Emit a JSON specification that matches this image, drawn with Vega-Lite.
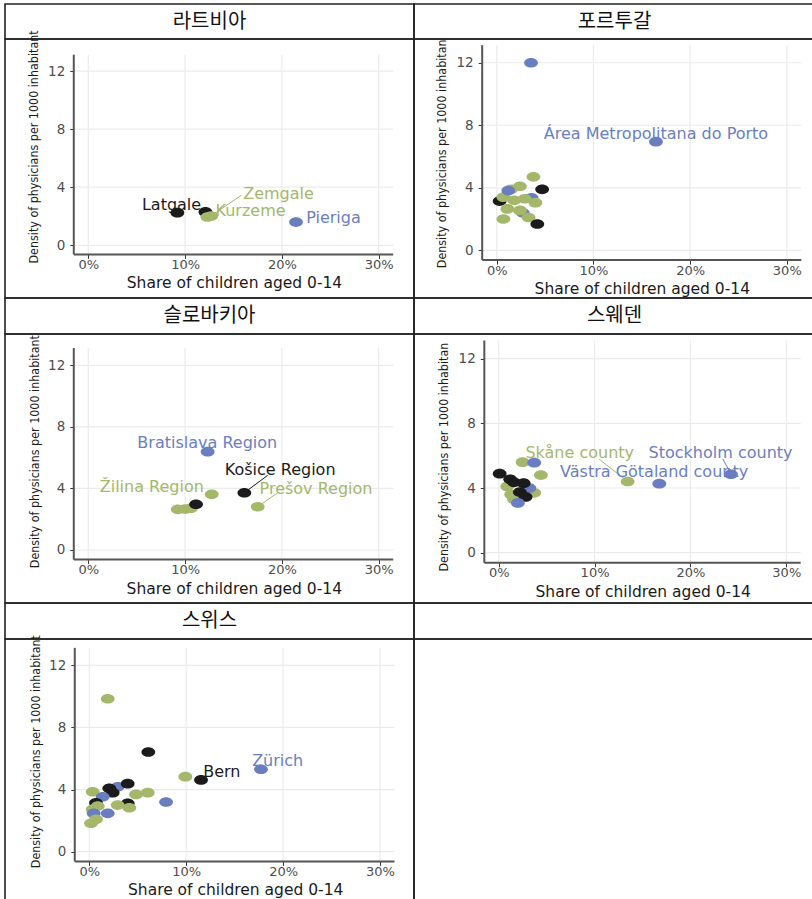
{
  "$schema": "https://vega.github.io/schema/vega-lite/v6.json",
  "padding": {"left": 4, "top": 3, "right": 0, "bottom": 0},
  "background": "white",
  "config": {
    "view": {"stroke": "#222222", "strokeWidth": 1.6},
    "concat": {"spacing": 0}
  },
  "datasets": {
    "points": [
      {"country": "라트비아", "region": "Latgale", "group": "C", "share": 0.092, "density": 2.25},
      {"country": "라트비아", "region": "", "group": "C", "share": 0.121, "density": 2.3},
      {"country": "라트비아", "region": "Kurzeme", "group": "B", "share": 0.123, "density": 1.95},
      {"country": "라트비아", "region": "Zemgale", "group": "B", "share": 0.127, "density": 2.02},
      {"country": "라트비아", "region": "Pieriga", "group": "A", "share": 0.2146, "density": 1.6},

      {"country": "포르투갈", "region": "", "group": "C", "share": 0.003, "density": 3.15},
      {"country": "포르투갈", "region": "", "group": "A", "share": 0.027, "density": 2.4},
      {"country": "포르투갈", "region": "", "group": "A", "share": 0.036, "density": 3.35},
      {"country": "포르투갈", "region": "", "group": "B", "share": 0.038, "density": 4.7},
      {"country": "포르투갈", "region": "", "group": "B", "share": 0.024, "density": 4.1},
      {"country": "포르투갈", "region": "", "group": "B", "share": 0.015, "density": 3.9},
      {"country": "포르투갈", "region": "", "group": "B", "share": 0.007, "density": 3.4},
      {"country": "포르투갈", "region": "", "group": "B", "share": 0.04, "density": 3.05},
      {"country": "포르투갈", "region": "", "group": "B", "share": 0.011, "density": 2.65},
      {"country": "포르투갈", "region": "", "group": "B", "share": 0.024, "density": 2.55},
      {"country": "포르투갈", "region": "", "group": "B", "share": 0.007, "density": 2.0},
      {"country": "포르투갈", "region": "", "group": "B", "share": 0.033, "density": 2.1},
      {"country": "포르투갈", "region": "", "group": "B", "share": 0.018, "density": 3.2},
      {"country": "포르투갈", "region": "", "group": "B", "share": 0.029, "density": 3.3},
      {"country": "포르투갈", "region": "", "group": "A", "share": 0.012, "density": 3.82},
      {"country": "포르투갈", "region": "", "group": "C", "share": 0.047, "density": 3.9},
      {"country": "포르투갈", "region": "", "group": "C", "share": 0.042, "density": 1.68},
      {"country": "포르투갈", "region": "", "group": "A", "share": 0.0355, "density": 12.0},
      {"country": "포르투갈", "region": "Área Metropolitana do Porto", "group": "A", "share": 0.1647, "density": 6.95},

      {"country": "슬로바키아", "region": "Bratislava Region", "group": "A", "share": 0.1233, "density": 6.39},
      {"country": "슬로바키아", "region": "", "group": "B", "share": 0.0924, "density": 2.64},
      {"country": "슬로바키아", "region": "", "group": "B", "share": 0.1, "density": 2.66},
      {"country": "슬로바키아", "region": "", "group": "B", "share": 0.106, "density": 2.71},
      {"country": "슬로바키아", "region": "", "group": "C", "share": 0.1113, "density": 2.97},
      {"country": "슬로바키아", "region": "Žilina Region", "group": "B", "share": 0.1275, "density": 3.62},
      {"country": "슬로바키아", "region": "Košice Region", "group": "C", "share": 0.1612, "density": 3.72},
      {"country": "슬로바키아", "region": "Prešov Region", "group": "B", "share": 0.175, "density": 2.81},

      {"country": "스웨덴", "region": "", "group": "B", "share": 0.009, "density": 4.1},
      {"country": "스웨덴", "region": "", "group": "B", "share": 0.016, "density": 3.3},
      {"country": "스웨덴", "region": "", "group": "B", "share": 0.013, "density": 3.6},
      {"country": "스웨덴", "region": "", "group": "B", "share": 0.037, "density": 3.7},
      {"country": "스웨덴", "region": "", "group": "B", "share": 0.03, "density": 3.85},
      {"country": "스웨덴", "region": "", "group": "B", "share": 0.025, "density": 5.6},
      {"country": "스웨덴", "region": "", "group": "B", "share": 0.044, "density": 4.8},
      {"country": "스웨덴", "region": "Skåne county", "group": "B", "share": 0.1345, "density": 4.4},
      {"country": "스웨덴", "region": "", "group": "A", "share": 0.037, "density": 5.57},
      {"country": "스웨덴", "region": "", "group": "A", "share": 0.032, "density": 4.0},
      {"country": "스웨덴", "region": "", "group": "C", "share": 0.001, "density": 4.89},
      {"country": "스웨덴", "region": "", "group": "C", "share": 0.012, "density": 4.54},
      {"country": "스웨덴", "region": "", "group": "C", "share": 0.016, "density": 4.35},
      {"country": "스웨덴", "region": "", "group": "C", "share": 0.026, "density": 4.3},
      {"country": "스웨덴", "region": "", "group": "C", "share": 0.022, "density": 3.75},
      {"country": "스웨덴", "region": "", "group": "C", "share": 0.028, "density": 3.45},
      {"country": "스웨덴", "region": "", "group": "A", "share": 0.02, "density": 3.08},
      {"country": "스웨덴", "region": "Västra Götaland county", "group": "A", "share": 0.1675, "density": 4.27},
      {"country": "스웨덴", "region": "Stockholm county", "group": "A", "share": 0.2423, "density": 4.85},

      {"country": "스위스", "region": "", "group": "B", "share": 0.019, "density": 9.85},
      {"country": "스위스", "region": "", "group": "C", "share": 0.0609, "density": 6.42},
      {"country": "스위스", "region": "", "group": "B", "share": 0.0991, "density": 4.83},
      {"country": "스위스", "region": "Bern", "group": "C", "share": 0.1153, "density": 4.62},
      {"country": "스위스", "region": "Zürich", "group": "A", "share": 0.1772, "density": 5.31},
      {"country": "스위스", "region": "", "group": "A", "share": 0.0792, "density": 3.2},
      {"country": "스위스", "region": "", "group": "A", "share": 0.0293, "density": 4.18},
      {"country": "스위스", "region": "", "group": "C", "share": 0.0396, "density": 4.38},
      {"country": "스위스", "region": "", "group": "C", "share": 0.0206, "density": 4.08},
      {"country": "스위스", "region": "", "group": "B", "share": 0.0035, "density": 3.86},
      {"country": "스위스", "region": "", "group": "C", "share": 0.0241, "density": 3.8},
      {"country": "스위스", "region": "", "group": "A", "share": 0.0138, "density": 3.54},
      {"country": "스위스", "region": "", "group": "B", "share": 0.0482, "density": 3.69},
      {"country": "스위스", "region": "", "group": "B", "share": 0.0603, "density": 3.8},
      {"country": "스위스", "region": "", "group": "C", "share": 0.0396, "density": 3.12},
      {"country": "스위스", "region": "", "group": "B", "share": 0.0293, "density": 3.0},
      {"country": "스위스", "region": "", "group": "B", "share": 0.0413, "density": 2.83},
      {"country": "스위스", "region": "", "group": "C", "share": 0.0069, "density": 3.15},
      {"country": "스위스", "region": "", "group": "B", "share": 0.0087, "density": 2.94},
      {"country": "스위스", "region": "", "group": "B", "share": 0.0035, "density": 2.73},
      {"country": "스위스", "region": "", "group": "A", "share": 0.0045, "density": 2.47},
      {"country": "스위스", "region": "", "group": "A", "share": 0.019, "density": 2.47},
      {"country": "스위스", "region": "", "group": "B", "share": 0.0069, "density": 2.09},
      {"country": "스위스", "region": "", "group": "B", "share": 0.0018, "density": 1.83}
    ],
    "labels": [
      {"country": "라트비아", "region": "Latgale", "group": "C", "lx": 0.086, "ly": 2.78},
      {"country": "라트비아", "region": "Zemgale", "group": "B", "lx": 0.1965, "ly": 3.55},
      {"country": "라트비아", "region": "Kurzeme", "group": "B", "lx": 0.1676, "ly": 2.36},
      {"country": "라트비아", "region": "Pieriga", "group": "A", "lx": 0.2533, "ly": 1.86},
      {"country": "포르투갈", "region": "Área Metropolitana do Porto", "group": "A", "lx": 0.1647, "ly": 7.46},
      {"country": "슬로바키아", "region": "Bratislava Region", "group": "A", "lx": 0.1229, "ly": 6.97},
      {"country": "슬로바키아", "region": "Košice Region", "group": "C", "lx": 0.1982, "ly": 5.18},
      {"country": "슬로바키아", "region": "Prešov Region", "group": "B", "lx": 0.2352, "ly": 3.94},
      {"country": "슬로바키아", "region": "Žilina Region", "group": "B", "lx": 0.0656, "ly": 4.11},
      {"country": "스웨덴", "region": "Stockholm county", "group": "A", "lx": 0.2314, "ly": 6.15},
      {"country": "스웨덴", "region": "Västra Götaland county", "group": "A", "lx": 0.1621, "ly": 4.99},
      {"country": "스웨덴", "region": "Skåne county", "group": "B", "lx": 0.0845, "ly": 6.18},
      {"country": "스위스", "region": "Bern", "group": "C", "lx": 0.1368, "ly": 5.13},
      {"country": "스위스", "region": "Zürich", "group": "A", "lx": 0.1944, "ly": 5.84}
    ],
    "leaders": [
      {"country": "라트비아", "group": "B", "share": 0.127, "density": 2.02, "ex": 0.158, "ey": 3.45},
      {"country": "슬로바키아", "group": "C", "share": 0.1612, "density": 3.72, "ex": 0.1853, "ey": 4.85},
      {"country": "슬로바키아", "group": "B", "share": 0.175, "density": 2.81, "ex": 0.1957, "ey": 3.72},
      {"country": "스웨덴", "group": "A", "share": 0.2423, "density": 4.85, "ex": 0.2337, "ey": 5.81},
      {"country": "스웨덴", "group": "B", "share": 0.1345, "density": 4.4, "ex": 0.1049, "ey": 5.78}
    ]
  },
  "columns": 2,
  "spacing": 0,
  "bounds": "flush",
  "concat": [
    {"width": 409, "height": 35, "data": {"values": [{"name": "라트비아"}]},
     "mark": {"type": "text", "font": "Noto Sans CJK KR", "fontSize": 20, "color": "#111111"},
     "encoding": {"text": {"field": "name"},
                  "x": {"datum": 0.5, "type": "quantitative", "scale": {"domain": [0, 1]}, "axis": null},
                  "y": {"datum": 0.5, "type": "quantitative", "scale": {"domain": [0, 1]}, "axis": null}}},
    {"width": 401, "height": 35, "data": {"values": [{"name": "포르투갈"}]},
     "mark": {"type": "text", "font": "Noto Sans CJK KR", "fontSize": 20, "color": "#111111"},
     "encoding": {"text": {"field": "name"},
                  "x": {"datum": 0.5, "type": "quantitative", "scale": {"domain": [0, 1]}, "axis": null},
                  "y": {"datum": 0.5, "type": "quantitative", "scale": {"domain": [0, 1]}, "axis": null}}},

    {"width": 409, "height": 259,
     "layer": [
       {"data": {"values": [{"v": 0}, {"v": 0.1}, {"v": 0.2}, {"v": 0.3}]},
        "mark": {"type": "rule", "color": "#ebebeb", "strokeWidth": 1.2},
        "encoding": {"x": {"field": "v", "type": "quantitative"}, "y": {"datum": -0.625}, "y2": {"datum": 13.125}}},
       {"data": {"values": [{"v": 0}, {"v": 4}, {"v": 8}, {"v": 12}]},
        "mark": {"type": "rule", "color": "#ebebeb", "strokeWidth": 1.2},
        "encoding": {"y": {"field": "v", "type": "quantitative"}, "x": {"datum": -0.015}, "x2": {"datum": 0.315}}},
       {"data": {"values": [{}]}, "mark": {"type": "rule", "color": "#555555", "strokeWidth": 2},
        "encoding": {"x": {"datum": -0.015}, "y": {"datum": -0.625}, "y2": {"datum": 13.125}}},
       {"data": {"values": [{}]}, "mark": {"type": "rule", "color": "#555555", "strokeWidth": 2},
        "encoding": {"y": {"datum": -0.625}, "x": {"datum": -0.015}, "x2": {"datum": 0.315}}},
       {"data": {"name": "leaders"}, "transform": [{"filter": "datum.country === '라트비아'"}],
        "mark": {"type": "rule", "strokeWidth": 1},
        "encoding": {"x": {"field": "share", "type": "quantitative"}, "y": {"field": "density", "type": "quantitative"},
                     "x2": {"field": "ex"}, "y2": {"field": "ey"},
                     "color": {"field": "group", "type": "nominal", "scale": {"domain": ["A", "B", "C"], "range": ["#6a7ebf", "#a4b76a", "#1b1b1b"]}, "legend": null}}},
       {"data": {"name": "points"}, "transform": [{"filter": "datum.country === '라트비아'"}],
        "mark": {"type": "point", "filled": true, "opacity": 1, "size": 190, "shape": "M -1 0 A 1 0.7 0 1 0 1 0 A 1 0.7 0 1 0 -1 0 Z"},
        "encoding": {
          "x": {"field": "share", "type": "quantitative", "scale": {"domain": [-0.08605, 0.33647], "nice": false, "zero": false},
                "axis": {"values": [0, 0.1, 0.2, 0.3], "format": ".0%", "offset": -43.6, "domain": false, "grid": false, "tickSize": 4, "tickColor": "#333333",
                         "labelPadding": 0, "labelFont": "DejaVu Sans", "labelFontSize": 13, "labelColor": "#4d4d4d", "labelOverlap": false, "labelFlush": false,
                         "title": "Share of children aged 0-14", "titleFont": "DejaVu Sans", "titleFontSize": 15.5, "titleFontWeight": "normal", "titleColor": "#1a1a1a",
                         "titleX": 229, "titleY": 28.5, "titleBaseline": "middle"}},
          "y": {"field": "density", "type": "quantitative", "scale": {"domain": [-3.629, 14.208], "nice": false, "zero": false},
                "axis": {"values": [0, 4, 8, 12], "offset": -68.8, "domain": false, "grid": false, "tickSize": 4, "tickColor": "#333333",
                         "labelPadding": 5, "labelFont": "DejaVu Sans", "labelFontSize": 13.5, "labelColor": "#4d4d4d", "labelOverlap": false, "labelFlush": false,
                         "title": "Density of physicians per 1000 inhabitant", "titleFont": "DejaVu Sans Condensed", "titleFontSize": 12.4, "titleFontWeight": "normal", "titleColor": "#1a1a1a",
                         "titleAngle": 270, "titleAlign": "left", "titleBaseline": "middle", "titleX": -40, "titleY": 224}},
          "color": {"field": "group", "type": "nominal", "scale": {"domain": ["A", "B", "C"], "range": ["#6a7ebf", "#a4b76a", "#1b1b1b"]}, "legend": null}}},
       {"data": {"name": "labels"}, "transform": [{"filter": "datum.country === '라트비아'"}],
        "mark": {"type": "text", "font": "DejaVu Sans", "fontSize": 16, "align": "center", "baseline": "middle"},
        "encoding": {"x": {"field": "lx", "type": "quantitative"}, "y": {"field": "ly", "type": "quantitative"},
                     "text": {"field": "region"},
                     "color": {"field": "group", "type": "nominal", "scale": {"domain": ["A", "B", "C"], "range": ["#6a7ebf", "#a4b76a", "#1b1b1b"]}, "legend": null}}}
     ]},

    {"width": 401, "height": 259,
     "layer": [
       {"data": {"values": [{"v": 0}, {"v": 0.1}, {"v": 0.2}, {"v": 0.3}]},
        "mark": {"type": "rule", "color": "#ebebeb", "strokeWidth": 1.2},
        "encoding": {"x": {"field": "v", "type": "quantitative"}, "y": {"datum": -0.625}, "y2": {"datum": 13.125}}},
       {"data": {"values": [{"v": 0}, {"v": 4}, {"v": 8}, {"v": 12}]},
        "mark": {"type": "rule", "color": "#ebebeb", "strokeWidth": 1.2},
        "encoding": {"y": {"field": "v", "type": "quantitative"}, "x": {"datum": -0.015}, "x2": {"datum": 0.315}}},
       {"data": {"values": [{}]}, "mark": {"type": "rule", "color": "#555555", "strokeWidth": 2},
        "encoding": {"x": {"datum": -0.015}, "y": {"datum": -0.625}, "y2": {"datum": 13.125}}},
       {"data": {"values": [{}]}, "mark": {"type": "rule", "color": "#555555", "strokeWidth": 2},
        "encoding": {"y": {"datum": -0.625}, "x": {"datum": -0.015}, "x2": {"datum": 0.315}}},
       {"data": {"name": "points"}, "transform": [{"filter": "datum.country === '포르투갈'"}],
        "mark": {"type": "point", "filled": true, "opacity": 1, "size": 190, "shape": "M -1 0 A 1 0.7 0 1 0 1 0 A 1 0.7 0 1 0 -1 0 Z"},
        "encoding": {
          "x": {"field": "share", "type": "quantitative", "scale": {"domain": [-0.08552, 0.32916], "nice": false, "zero": false},
                "axis": {"values": [0, 0.1, 0.2, 0.3], "format": ".0%", "offset": -37.9, "domain": false, "grid": false, "tickSize": 4, "tickColor": "#333333",
                         "labelPadding": 0, "labelFont": "DejaVu Sans", "labelFontSize": 13, "labelColor": "#4d4d4d", "labelOverlap": false, "labelFlush": false,
                         "title": "Share of children aged 0-14", "titleFont": "DejaVu Sans", "titleFontSize": 15.5, "titleFontWeight": "normal", "titleColor": "#1a1a1a",
                         "titleX": 227.8, "titleY": 28.5, "titleBaseline": "middle"}},
          "y": {"field": "density", "type": "quantitative", "scale": {"domain": [-3.052, 13.519], "nice": false, "zero": false},
                "axis": {"values": [0, 4, 8, 12], "offset": -68.2, "domain": false, "grid": false, "tickSize": 4, "tickColor": "#333333",
                         "labelPadding": 5, "labelFont": "DejaVu Sans", "labelFontSize": 13.5, "labelColor": "#4d4d4d", "labelOverlap": false, "labelFlush": false,
                         "title": "Density of physicians per 1000 inhabitan", "titleFont": "DejaVu Sans Condensed", "titleFontSize": 12.4, "titleFontWeight": "normal", "titleColor": "#1a1a1a",
                         "titleAngle": 270, "titleAlign": "left", "titleBaseline": "middle", "titleX": -41, "titleY": 228.7}},
          "color": {"field": "group", "type": "nominal", "scale": {"domain": ["A", "B", "C"], "range": ["#6a7ebf", "#a4b76a", "#1b1b1b"]}, "legend": null}}},
       {"data": {"name": "labels"}, "transform": [{"filter": "datum.country === '포르투갈'"}],
        "mark": {"type": "text", "font": "DejaVu Sans", "fontSize": 16, "align": "center", "baseline": "middle"},
        "encoding": {"x": {"field": "lx", "type": "quantitative"}, "y": {"field": "ly", "type": "quantitative"},
                     "text": {"field": "region"},
                     "color": {"field": "group", "type": "nominal", "scale": {"domain": ["A", "B", "C"], "range": ["#6a7ebf", "#a4b76a", "#1b1b1b"]}, "legend": null}}}
     ]},

    {"width": 409, "height": 36, "data": {"values": [{"name": "슬로바키아"}]},
     "mark": {"type": "text", "font": "Noto Sans CJK KR", "fontSize": 20, "color": "#111111"},
     "encoding": {"text": {"field": "name"},
                  "x": {"datum": 0.5, "type": "quantitative", "scale": {"domain": [0, 1]}, "axis": null},
                  "y": {"datum": 0.5, "type": "quantitative", "scale": {"domain": [0, 1]}, "axis": null}}},
    {"width": 401, "height": 36, "data": {"values": [{"name": "스웨덴"}]},
     "mark": {"type": "text", "font": "Noto Sans CJK KR", "fontSize": 20, "color": "#111111"},
     "encoding": {"text": {"field": "name"},
                  "x": {"datum": 0.5, "type": "quantitative", "scale": {"domain": [0, 1]}, "axis": null},
                  "y": {"datum": 0.5, "type": "quantitative", "scale": {"domain": [0, 1]}, "axis": null}}},

    {"width": 409, "height": 269,
     "layer": [
       {"data": {"values": [{"v": 0}, {"v": 0.1}, {"v": 0.2}, {"v": 0.3}]},
        "mark": {"type": "rule", "color": "#ebebeb", "strokeWidth": 1.2},
        "encoding": {"x": {"field": "v", "type": "quantitative"}, "y": {"datum": -0.625}, "y2": {"datum": 13.125}}},
       {"data": {"values": [{"v": 0}, {"v": 4}, {"v": 8}, {"v": 12}]},
        "mark": {"type": "rule", "color": "#ebebeb", "strokeWidth": 1.2},
        "encoding": {"y": {"field": "v", "type": "quantitative"}, "x": {"datum": -0.015}, "x2": {"datum": 0.315}}},
       {"data": {"values": [{}]}, "mark": {"type": "rule", "color": "#555555", "strokeWidth": 2},
        "encoding": {"x": {"datum": -0.015}, "y": {"datum": -0.625}, "y2": {"datum": 13.125}}},
       {"data": {"values": [{}]}, "mark": {"type": "rule", "color": "#555555", "strokeWidth": 2},
        "encoding": {"y": {"datum": -0.625}, "x": {"datum": -0.015}, "x2": {"datum": 0.315}}},
       {"data": {"name": "leaders"}, "transform": [{"filter": "datum.country === '슬로바키아'"}],
        "mark": {"type": "rule", "strokeWidth": 1},
        "encoding": {"x": {"field": "share", "type": "quantitative"}, "y": {"field": "density", "type": "quantitative"},
                     "x2": {"field": "ex"}, "y2": {"field": "ey"},
                     "color": {"field": "group", "type": "nominal", "scale": {"domain": ["A", "B", "C"], "range": ["#6a7ebf", "#a4b76a", "#1b1b1b"]}, "legend": null}}},
       {"data": {"name": "points"}, "transform": [{"filter": "datum.country === '슬로바키아'"}],
        "mark": {"type": "point", "filled": true, "opacity": 1, "size": 190, "shape": "M -1 0 A 1 0.7 0 1 0 1 0 A 1 0.7 0 1 0 -1 0 Z"},
        "encoding": {
          "x": {"field": "share", "type": "quantitative", "scale": {"domain": [-0.08605, 0.33647], "nice": false, "zero": false},
                "axis": {"values": [0, 0.1, 0.2, 0.3], "format": ".0%", "offset": -43.4, "domain": false, "grid": false, "tickSize": 4, "tickColor": "#333333",
                         "labelPadding": 0, "labelFont": "DejaVu Sans", "labelFontSize": 13, "labelColor": "#4d4d4d", "labelOverlap": false, "labelFlush": false,
                         "title": "Share of children aged 0-14", "titleFont": "DejaVu Sans", "titleFontSize": 15.5, "titleFontWeight": "normal", "titleColor": "#1a1a1a",
                         "titleX": 228.8, "titleY": 28.5, "titleBaseline": "middle"}},
          "y": {"field": "density", "type": "quantitative", "scale": {"domain": [-3.444, 14.035], "nice": false, "zero": false},
                "axis": {"values": [0, 4, 8, 12], "offset": -68.8, "domain": false, "grid": false, "tickSize": 4, "tickColor": "#333333",
                         "labelPadding": 5, "labelFont": "DejaVu Sans", "labelFontSize": 13.5, "labelColor": "#4d4d4d", "labelOverlap": false, "labelFlush": false,
                         "title": "Density of physicians per 1000 inhabitant", "titleFont": "DejaVu Sans Condensed", "titleFontSize": 12.4, "titleFontWeight": "normal", "titleColor": "#1a1a1a",
                         "titleAngle": 270, "titleAlign": "left", "titleBaseline": "middle", "titleX": -39.3, "titleY": 233.7}},
          "color": {"field": "group", "type": "nominal", "scale": {"domain": ["A", "B", "C"], "range": ["#6a7ebf", "#a4b76a", "#1b1b1b"]}, "legend": null}}},
       {"data": {"name": "labels"}, "transform": [{"filter": "datum.country === '슬로바키아'"}],
        "mark": {"type": "text", "font": "DejaVu Sans", "fontSize": 16, "align": "center", "baseline": "middle"},
        "encoding": {"x": {"field": "lx", "type": "quantitative"}, "y": {"field": "ly", "type": "quantitative"},
                     "text": {"field": "region"},
                     "color": {"field": "group", "type": "nominal", "scale": {"domain": ["A", "B", "C"], "range": ["#6a7ebf", "#a4b76a", "#1b1b1b"]}, "legend": null}}}
     ]},

    {"width": 401, "height": 269,
     "layer": [
       {"data": {"values": [{"v": 0}, {"v": 0.1}, {"v": 0.2}, {"v": 0.3}]},
        "mark": {"type": "rule", "color": "#ebebeb", "strokeWidth": 1.2},
        "encoding": {"x": {"field": "v", "type": "quantitative"}, "y": {"datum": -0.625}, "y2": {"datum": 13.125}}},
       {"data": {"values": [{"v": 0}, {"v": 4}, {"v": 8}, {"v": 12}]},
        "mark": {"type": "rule", "color": "#ebebeb", "strokeWidth": 1.2},
        "encoding": {"y": {"field": "v", "type": "quantitative"}, "x": {"datum": -0.015}, "x2": {"datum": 0.315}}},
       {"data": {"values": [{}]}, "mark": {"type": "rule", "color": "#555555", "strokeWidth": 2},
        "encoding": {"x": {"datum": -0.015}, "y": {"datum": -0.625}, "y2": {"datum": 13.125}}},
       {"data": {"values": [{}]}, "mark": {"type": "rule", "color": "#555555", "strokeWidth": 2},
        "encoding": {"y": {"datum": -0.625}, "x": {"datum": -0.015}, "x2": {"datum": 0.315}}},
       {"data": {"name": "leaders"}, "transform": [{"filter": "datum.country === '스웨덴'"}],
        "mark": {"type": "rule", "strokeWidth": 1},
        "encoding": {"x": {"field": "share", "type": "quantitative"}, "y": {"field": "density", "type": "quantitative"},
                     "x2": {"field": "ex"}, "y2": {"field": "ey"},
                     "color": {"field": "group", "type": "nominal", "scale": {"domain": ["A", "B", "C"], "range": ["#6a7ebf", "#a4b76a", "#1b1b1b"]}, "legend": null}}},
       {"data": {"name": "points"}, "transform": [{"filter": "datum.country === '스웨덴'"}],
        "mark": {"type": "point", "filled": true, "opacity": 1, "size": 190, "shape": "M -1 0 A 1 0.7 0 1 0 1 0 A 1 0.7 0 1 0 -1 0 Z"},
        "encoding": {
          "x": {"field": "share", "type": "quantitative", "scale": {"domain": [-0.08835, 0.32993], "nice": false, "zero": false},
                "axis": {"values": [0, 0.1, 0.2, 0.3], "format": ".0%", "offset": -40.2, "domain": false, "grid": false, "tickSize": 4, "tickColor": "#333333",
                         "labelPadding": 0, "labelFont": "DejaVu Sans", "labelFontSize": 13, "labelColor": "#4d4d4d", "labelOverlap": false, "labelFlush": false,
                         "title": "Share of children aged 0-14", "titleFont": "DejaVu Sans", "titleFontSize": 15.5, "titleFontWeight": "normal", "titleColor": "#1a1a1a",
                         "titleX": 228.7, "titleY": 29, "titleBaseline": "middle"}},
          "y": {"field": "density", "type": "quantitative", "scale": {"domain": [-3.111, 13.525], "nice": false, "zero": false},
                "axis": {"values": [0, 4, 8, 12], "offset": -70.3, "domain": false, "grid": false, "tickSize": 4, "tickColor": "#333333",
                         "labelPadding": 5, "labelFont": "DejaVu Sans", "labelFontSize": 13.5, "labelColor": "#4d4d4d", "labelOverlap": false, "labelFlush": false,
                         "title": "Density of physicians per 1000 inhabitan", "titleFont": "DejaVu Sans Condensed", "titleFontSize": 12.4, "titleFontWeight": "normal", "titleColor": "#1a1a1a",
                         "titleAngle": 270, "titleAlign": "left", "titleBaseline": "middle", "titleX": -41.3, "titleY": 237}},
          "color": {"field": "group", "type": "nominal", "scale": {"domain": ["A", "B", "C"], "range": ["#6a7ebf", "#a4b76a", "#1b1b1b"]}, "legend": null}}},
       {"data": {"name": "labels"}, "transform": [{"filter": "datum.country === '스웨덴'"}],
        "mark": {"type": "text", "font": "DejaVu Sans", "fontSize": 16, "align": "center", "baseline": "middle"},
        "encoding": {"x": {"field": "lx", "type": "quantitative"}, "y": {"field": "ly", "type": "quantitative"},
                     "text": {"field": "region"},
                     "color": {"field": "group", "type": "nominal", "scale": {"domain": ["A", "B", "C"], "range": ["#6a7ebf", "#a4b76a", "#1b1b1b"]}, "legend": null}}}
     ]},

    {"width": 409, "height": 36, "data": {"values": [{"name": "스위스"}]},
     "mark": {"type": "text", "font": "Noto Sans CJK KR", "fontSize": 20, "color": "#111111"},
     "encoding": {"text": {"field": "name"},
                  "x": {"datum": 0.5, "type": "quantitative", "scale": {"domain": [0, 1]}, "axis": null},
                  "y": {"datum": 0.5, "type": "quantitative", "scale": {"domain": [0, 1]}, "axis": null}}},
    {"width": 401, "height": 36, "data": {"values": [{"name": ""}]},
     "mark": {"type": "text", "font": "Noto Sans CJK KR", "fontSize": 20, "color": "#111111"},
     "encoding": {"text": {"field": "name"},
                  "x": {"datum": 0.5, "type": "quantitative", "scale": {"domain": [0, 1]}, "axis": null},
                  "y": {"datum": 0.5, "type": "quantitative", "scale": {"domain": [0, 1]}, "axis": null}}},

    {"width": 409, "height": 265,
     "layer": [
       {"data": {"values": [{"v": 0}, {"v": 0.1}, {"v": 0.2}, {"v": 0.3}]},
        "mark": {"type": "rule", "color": "#ebebeb", "strokeWidth": 1.2},
        "encoding": {"x": {"field": "v", "type": "quantitative"}, "y": {"datum": -0.625}, "y2": {"datum": 13.125}}},
       {"data": {"values": [{"v": 0}, {"v": 4}, {"v": 8}, {"v": 12}]},
        "mark": {"type": "rule", "color": "#ebebeb", "strokeWidth": 1.2},
        "encoding": {"y": {"field": "v", "type": "quantitative"}, "x": {"datum": -0.015}, "x2": {"datum": 0.315}}},
       {"data": {"values": [{}]}, "mark": {"type": "rule", "color": "#555555", "strokeWidth": 2},
        "encoding": {"x": {"datum": -0.015}, "y": {"datum": -0.625}, "y2": {"datum": 13.125}}},
       {"data": {"values": [{}]}, "mark": {"type": "rule", "color": "#555555", "strokeWidth": 2},
        "encoding": {"y": {"datum": -0.625}, "x": {"datum": -0.015}, "x2": {"datum": 0.315}}},
       {"data": {"name": "points"}, "transform": [{"filter": "datum.country === '스위스'"}],
        "mark": {"type": "point", "filled": true, "opacity": 1, "size": 190, "shape": "M -1 0 A 1 0.7 0 1 0 1 0 A 1 0.7 0 1 0 -1 0 Z"},
        "encoding": {
          "x": {"field": "share", "type": "quantitative", "scale": {"domain": [-0.087, 0.3351], "nice": false, "zero": false},
                "axis": {"values": [0, 0.1, 0.2, 0.3], "format": ".0%", "offset": -42.6, "domain": false, "grid": false, "tickSize": 4, "tickColor": "#333333",
                         "labelPadding": 0, "labelFont": "DejaVu Sans", "labelFontSize": 13, "labelColor": "#4d4d4d", "labelOverlap": false, "labelFlush": false,
                         "title": "Share of children aged 0-14", "titleFont": "DejaVu Sans", "titleFontSize": 15.5, "titleFontWeight": "normal", "titleColor": "#1a1a1a",
                         "titleX": 230.2, "titleY": 28.5, "titleBaseline": "middle"}},
          "y": {"field": "density", "type": "quantitative", "scale": {"domain": [-3.368, 13.696], "nice": false, "zero": false},
                "axis": {"values": [0, 4, 8, 12], "offset": -69.8, "domain": false, "grid": false, "tickSize": 4, "tickColor": "#333333",
                         "labelPadding": 5, "labelFont": "DejaVu Sans", "labelFontSize": 13.5, "labelColor": "#4d4d4d", "labelOverlap": false, "labelFlush": false,
                         "title": "Density of physicians per 1000 inhabitant", "titleFont": "DejaVu Sans Condensed", "titleFontSize": 12.4, "titleFontWeight": "normal", "titleColor": "#1a1a1a",
                         "titleAngle": 270, "titleAlign": "left", "titleBaseline": "middle", "titleX": -39.8, "titleY": 228.7}},
          "color": {"field": "group", "type": "nominal", "scale": {"domain": ["A", "B", "C"], "range": ["#6a7ebf", "#a4b76a", "#1b1b1b"]}, "legend": null}}},
       {"data": {"name": "labels"}, "transform": [{"filter": "datum.country === '스위스'"}],
        "mark": {"type": "text", "font": "DejaVu Sans", "fontSize": 16, "align": "center", "baseline": "middle"},
        "encoding": {"x": {"field": "lx", "type": "quantitative"}, "y": {"field": "ly", "type": "quantitative"},
                     "text": {"field": "region"},
                     "color": {"field": "group", "type": "nominal", "scale": {"domain": ["A", "B", "C"], "range": ["#6a7ebf", "#a4b76a", "#1b1b1b"]}, "legend": null}}}
     ]},
    {"width": 401, "height": 265, "data": {"values": [{"name": ""}]},
     "mark": {"type": "text", "fontSize": 12},
     "encoding": {"text": {"field": "name"},
                  "x": {"datum": 0.5, "type": "quantitative", "scale": {"domain": [0, 1]}, "axis": null},
                  "y": {"datum": 0.5, "type": "quantitative", "scale": {"domain": [0, 1]}, "axis": null}}}
  ]
}
